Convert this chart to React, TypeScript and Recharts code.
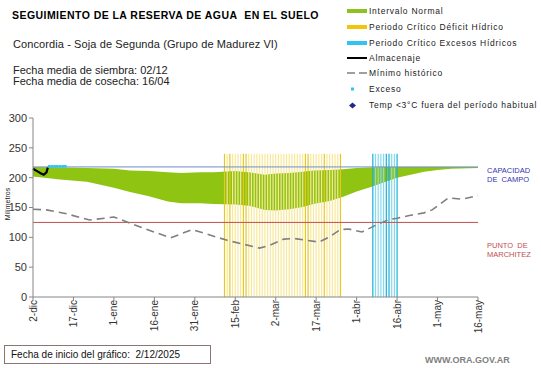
import React from "react";
import {
  ComposedChart,
  Area,
  Line,
  XAxis,
  YAxis,
  ReferenceLine,
} from "recharts";

// ---------------------------------------------------------------------------
// Data (x = days since 2-dic)
// ---------------------------------------------------------------------------

const tickDays = [0, 15, 30, 45, 60, 75, 90, 105, 120, 135, 150, 165];
const tickLabels = ["2-dic", "17-dic", "1-ene", "16-ene", "31-ene", "15-feb", "2-mar", "17-mar", "1-abr", "16-abr", "1-may", "16-may"];
const yTicks = [0, 50, 100, 150, 200, 250, 300];

const bandDays = [0, 10, 20, 30, 36, 43, 50, 55, 62, 67, 75, 80, 86, 90, 95, 100, 104, 110, 115, 120, 125, 130, 135, 140, 145, 150, 155, 165];
const bandLow = [202, 197, 193, 183, 176, 169, 160, 157, 157, 156, 155, 153, 146, 145, 147, 151, 156, 161, 168, 177, 184, 192, 200, 205, 210, 213, 215, 216];
const bandHigh = [218, 217, 216, 215, 212, 211, 209, 208, 209, 209, 211, 209, 205, 207, 208, 210, 212, 213, 214, 216, 217, 218, 218, 218, 218, 218, 218, 218];

const minDays = [0, 5, 12, 21, 30, 40, 51, 59, 72, 84, 88, 93, 97, 106, 110, 114, 117, 122, 127, 132, 135, 140, 145, 148, 154, 159, 165];
const minValues = [147, 146, 140, 129, 134, 117, 99, 113, 95, 82, 87, 97, 98, 92, 101, 113, 114, 109, 120, 130, 132, 137, 141, 146, 166, 164, 170];

const storageDays = [0, 1.5, 3, 4, 5, 5.5];
const storageValues = [215, 211, 207, 205, 209, 217];

const excessDays = [6, 7, 8, 9, 10, 11, 12];
const excessValue = 219;

const deficitDays = [71, 72, 73, 74, 75, 76, 77, 78, 79, 80, 81, 82, 83, 84, 85, 86, 87, 88, 89, 90, 91, 92, 93, 94, 95, 96, 97, 98, 99, 100, 101, 102, 103, 104, 105, 106, 107, 108, 109, 110, 111, 112, 113, 114];
const deficitStrong = [71, 73, 78, 79, 101, 102, 108, 114];
const wetDays = [126, 127, 128, 129, 130, 131, 132, 133, 134, 135];
const wetStrong = [126, 131, 132, 135];
const criticalTop = 240;

const fieldCapacity = 218;
const wiltingPoint = 125;

// build one table keyed by day
const rowsByDay = new Map<number, any>();
const row = (d: number) => {
  if (!rowsByDay.has(d)) rowsByDay.set(d, { day: d });
  return rowsByDay.get(d);
};
bandDays.forEach((d, i) => (row(d).band = [bandLow[i], bandHigh[i]]));
minDays.forEach((d, i) => (row(d).minimo = minValues[i]));
storageDays.forEach((d, i) => (row(d).almacenaje = storageValues[i]));
excessDays.forEach((d) => (row(d).exceso = excessValue));
const data = Array.from(rowsByDay.values()).sort((a, b) => a.day - b.day);

const FONT = "'Liberation Sans', Arial, sans-serif";

// ---------------------------------------------------------------------------
// Ticks / dots
// ---------------------------------------------------------------------------

function DateTick({ x, y, payload }: any) {
  const i = tickDays.indexOf(payload.value);
  return (
    <text
      transform={`translate(${x},${y - 3}) rotate(-90)`}
      textAnchor="end"
      dy={3.5}
      fontSize={10}
      fontFamily={FONT}
      fill="#333"
    >
      {tickLabels[i]}
    </text>
  );
}

function ExcessDot({ cx, cy, payload }: any) {
  if (payload.exceso == null) return null;
  return <rect x={cx - 1.3} y={cy - 1.3} width={2.6} height={2.6} fill="#2FC4F2" />;
}

// ---------------------------------------------------------------------------
// Legend
// ---------------------------------------------------------------------------

const legendRows = [
  { label: "Intervalo Normal", kind: "bar", color: "#8DC21F", y: 11 },
  { label: "Periodo Crítico Déficit Hídrico", kind: "bar", color: "#F2C40C", y: 27 },
  { label: "Periodo Crítico Excesos Hídricos", kind: "bar", color: "#2FC4F2", y: 43 },
  { label: "Almacenaje", kind: "line", color: "#000", y: 58 },
  { label: "Mínimo histórico", kind: "dash", color: "#808080", y: 73 },
  { label: "Exceso", kind: "dot", color: "#2FC4F2", y: 89 },
  { label: "Temp <3°C fuera del período habitual", kind: "diamond", color: "#1F2A8C", y: 105 },
];

function LegendSwatch({ kind, color }: { kind: string; color: string }) {
  if (kind === "bar") return <div style={{ width: 20, height: 4, background: color }} />;
  if (kind === "line") return <div style={{ width: 20, height: 2, background: color }} />;
  if (kind === "dash")
    return (
      <svg width={22} height={4}>
        <line x1={0} y1={2} x2={22} y2={2} stroke={color} strokeWidth={1.5} strokeDasharray="8 4" />
      </svg>
    );
  if (kind === "dot")
    return (
      <svg width={20} height={6}>
        <rect x={4} y={1.5} width={3} height={3} fill={color} />
      </svg>
    );
  return (
    <svg width={20} height={7}>
      <polygon points="5.5,0.5 9,3.5 5.5,6.5 2,3.5" fill={color} />
    </svg>
  );
}

// ---------------------------------------------------------------------------
// App
// ---------------------------------------------------------------------------

export default function App() {
  return (
    <div
      style={{
        position: "absolute",
        left: 0,
        top: 0,
        width: 541,
        height: 368,
        background: "#fff",
        fontFamily: FONT,
        overflow: "hidden",
      }}
    >
      <div style={{ position: "absolute", left: 0, top: 0 }}>
        <ComposedChart
          width={541}
          height={368}
          data={data}
          margin={{ top: 118, right: 63, bottom: 31, left: 0 }}
        >
          <XAxis
            dataKey="day"
            type="number"
            domain={[0, 165]}
            ticks={tickDays}
            interval={0}
            height={40}
            tick={<DateTick />}
            tickSize={4}
            axisLine={{ stroke: "#868686" }}
            tickLine={{ stroke: "#868686" }}
          />
          <YAxis
            type="number"
            domain={[0, 300]}
            ticks={yTicks}
            interval={0}
            width={33}
            tickSize={4}
            tick={{ fontSize: 11, fill: "#333", fontFamily: FONT }}
            axisLine={{ stroke: "#868686" }}
            tickLine={{ stroke: "#868686" }}
          />
          <Area
            dataKey="band"
            stroke="none"
            fill="#8FC412"
            fillOpacity={1}
            connectNulls
            isAnimationActive={false}
          />
          {/* critical periods: one thin line per day */}
          {deficitDays.map((d) => (
            <ReferenceLine
              key={"def" + d}
              segment={[{ x: d, y: 0 }, { x: d, y: criticalTop }]}
              stroke={deficitStrong.includes(d) ? "#E8C81E" : "#F7E89A"}
              strokeWidth={1.2}
            />
          ))}
          {wetDays.map((d) => (
            <ReferenceLine
              key={"wet" + d}
              segment={[{ x: d, y: 0 }, { x: d, y: criticalTop }]}
              stroke={wetStrong.includes(d) ? "#18B0D8" : "#86DAF0"}
              strokeWidth={1.2}
            />
          ))}
          <ReferenceLine y={fieldCapacity} stroke="#6F8FC8" strokeWidth={1} />
          <ReferenceLine y={wiltingPoint} stroke="#C0504D" strokeWidth={1} />
          <Line
            dataKey="minimo"
            stroke="#7F7F7F"
            strokeWidth={1.6}
            strokeDasharray="8 5"
            dot={false}
            connectNulls
            isAnimationActive={false}
          />
          <Line
            dataKey="almacenaje"
            stroke="#000"
            strokeWidth={2.2}
            dot={false}
            connectNulls
            isAnimationActive={false}
          />
          <Line
            dataKey="exceso"
            stroke="none"
            dot={<ExcessDot />}
            activeDot={false}
            isAnimationActive={false}
          />
        </ComposedChart>
      </div>

      {/* header */}
      <div style={{ position: "absolute", left: 12, top: 9, fontSize: 10.5, letterSpacing: 0.45, fontWeight: "bold", color: "#000", whiteSpace: "nowrap" }}>
        SEGUIMIENTO DE LA RESERVA DE AGUA&nbsp; EN EL SUELO
      </div>
      <div style={{ position: "absolute", left: 13, top: 38, fontSize: 11, letterSpacing: 0.1, color: "#222", whiteSpace: "nowrap" }}>
        Concordia - Soja de Segunda (Grupo de Madurez VI)
      </div>
      <div style={{ position: "absolute", left: 13, top: 65, fontSize: 11, lineHeight: "10.5px", color: "#222", whiteSpace: "nowrap" }}>
        Fecha media de siembra: 02/12
        <br />
        Fecha media de cosecha: 16/04
      </div>

      {/* legend */}
      {legendRows.map((r) => (
        <div
          key={r.label}
          style={{ position: "absolute", left: 347, top: r.y - 6, height: 12, display: "flex", alignItems: "center", whiteSpace: "nowrap" }}
        >
          <div style={{ width: 22, display: "flex", alignItems: "center" }}>
            <LegendSwatch kind={r.kind} color={r.color} />
          </div>
          <span style={{ fontSize: 8.5, letterSpacing: 0.75, color: "#222" }}>{r.label}</span>
        </div>
      ))}

      {/* y label */}
      <div
        style={{
          position: "absolute",
          left: 7,
          top: 204,
          fontSize: 7,
          color: "#222",
          transform: "translate(-50%, -50%) rotate(-90deg)",
          whiteSpace: "nowrap",
        }}
      >
        Milímetros
      </div>

      {/* right annotations */}
      <div style={{ position: "absolute", left: 487, top: 166, fontSize: 7.5, lineHeight: "9px", color: "#3535B5", whiteSpace: "pre" }}>
        {"CAPACIDAD\nDE  CAMPO"}
      </div>
      <div style={{ position: "absolute", left: 487, top: 241, fontSize: 7.5, lineHeight: "9px", color: "#C0504D", whiteSpace: "pre" }}>
        {"PUNTO  DE\nMARCHITEZ"}
      </div>

      {/* footer */}
      <div
        style={{
          position: "absolute",
          left: 4,
          top: 345,
          width: 207,
          height: 19,
          border: "1px solid #8A7474",
          boxSizing: "border-box",
          fontSize: 10,
          lineHeight: "17px",
          paddingLeft: 6,
          color: "#111",
          whiteSpace: "nowrap",
        }}
      >
        Fecha de inicio del gráfico:&nbsp;&nbsp;2/12/2025
      </div>
      <div style={{ position: "absolute", left: 425, top: 355, fontSize: 9, fontWeight: "bold", color: "#808080", whiteSpace: "nowrap" }}>
        WWW.ORA.GOV.AR
      </div>
    </div>
  );
}
